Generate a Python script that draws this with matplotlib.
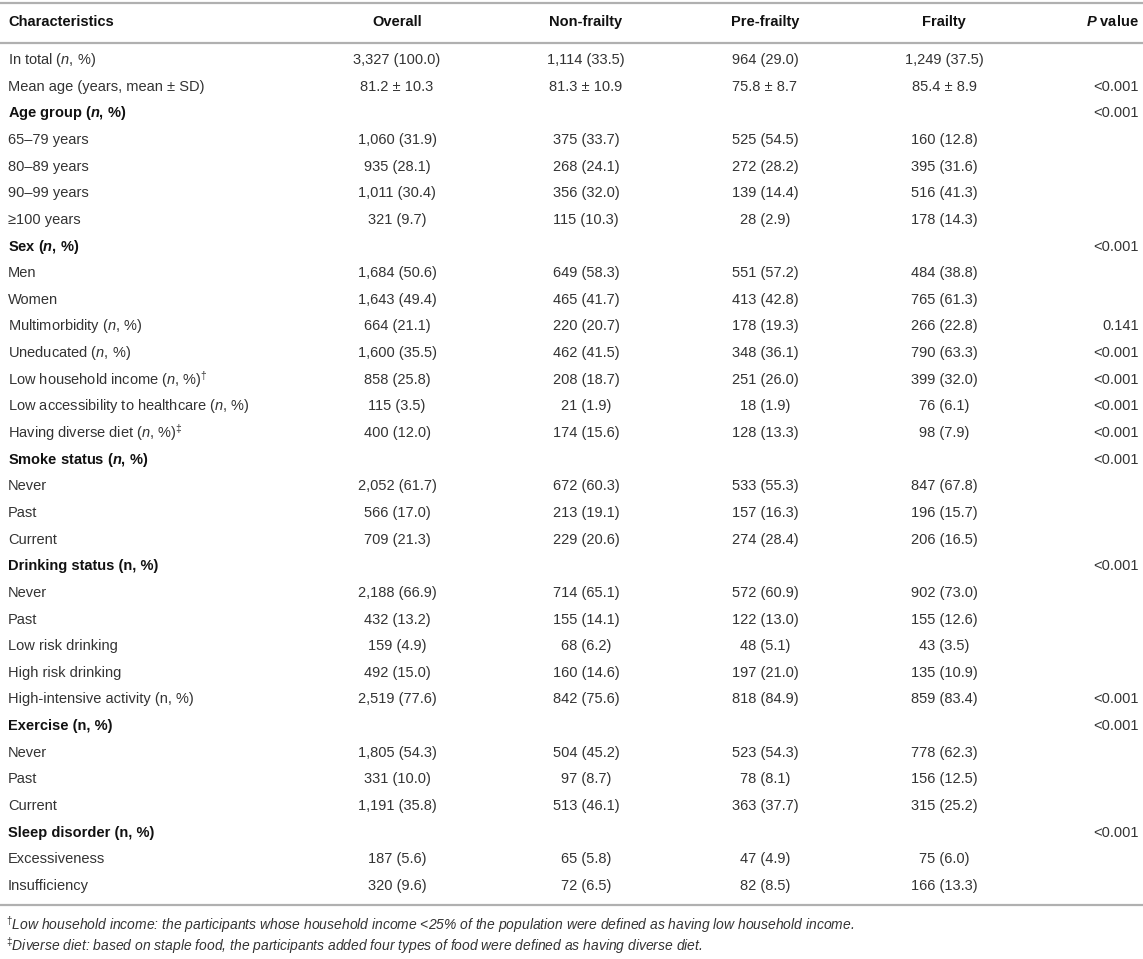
import matplotlib.pyplot as plt
import numpy as np

plt.rcParams['font.family'] = ['Liberation Sans', 'DejaVu Sans']
plt.rcParams['mathtext.fontset'] = 'custom'
plt.rcParams['mathtext.rm'] = 'Liberation Sans'
plt.rcParams['mathtext.it'] = 'Liberation Sans:italic'
plt.rcParams['mathtext.bf'] = 'Liberation Sans:bold'
plt.rcParams['mathtext.bfit'] = 'Liberation Sans:bold:italic'

# Tabel data
headers = ['Characteristics', 'Overall', 'Non-frailty', 'Pre-frailty', 'Frailty', r'$\mathbfit{P}$ value']

labels = [
    r'In total ($\mathit{n}$, %)',
    'Mean age (years, mean ± SD)',
    r'Age group ($\mathbfit{n}$, %)',
    '65–79 years',
    '80–89 years',
    '90–99 years',
    '≥100 years',
    r'Sex ($\mathbfit{n}$, %)',
    'Men',
    'Women',
    r'Multimorbidity ($\mathit{n}$, %)',
    r'Uneducated ($\mathit{n}$, %)',
    r'Low household income ($\mathit{n}$, %)$^{†}$',
    r'Low accessibility to healthcare ($\mathit{n}$, %)',
    r'Having diverse diet ($\mathit{n}$, %)$^{‡}$',
    r'Smoke status ($\mathbfit{n}$, %)',
    'Never',
    'Past',
    'Current',
    'Drinking status (n, %)',
    'Never',
    'Past',
    'Low risk drinking',
    'High risk drinking',
    'High-intensive activity (n, %)',
    'Exercise (n, %)',
    'Never',
    'Past',
    'Current',
    'Sleep disorder (n, %)',
    'Excessiveness',
    'Insufficiency',
]

bold_rows = [2, 7, 15, 19, 25, 29]

overall = ['3,327 (100.0)', '81.2 ± 10.3', '', '1,060 (31.9)', '935 (28.1)', '1,011 (30.4)',
           '321 (9.7)', '', '1,684 (50.6)', '1,643 (49.4)', '664 (21.1)', '1,600 (35.5)',
           '858 (25.8)', '115 (3.5)', '400 (12.0)', '', '2,052 (61.7)', '566 (17.0)',
           '709 (21.3)', '', '2,188 (66.9)', '432 (13.2)', '159 (4.9)', '492 (15.0)',
           '2,519 (77.6)', '', '1,805 (54.3)', '331 (10.0)', '1,191 (35.8)', '',
           '187 (5.6)', '320 (9.6)']
non_frailty = ['1,114 (33.5)', '81.3 ± 10.9', '', '375 (33.7)', '268 (24.1)', '356 (32.0)',
               '115 (10.3)', '', '649 (58.3)', '465 (41.7)', '220 (20.7)', '462 (41.5)',
               '208 (18.7)', '21 (1.9)', '174 (15.6)', '', '672 (60.3)', '213 (19.1)',
               '229 (20.6)', '', '714 (65.1)', '155 (14.1)', '68 (6.2)', '160 (14.6)',
               '842 (75.6)', '', '504 (45.2)', '97 (8.7)', '513 (46.1)', '',
               '65 (5.8)', '72 (6.5)']
pre_frailty = ['964 (29.0)', '75.8 ± 8.7', '', '525 (54.5)', '272 (28.2)', '139 (14.4)',
               '28 (2.9)', '', '551 (57.2)', '413 (42.8)', '178 (19.3)', '348 (36.1)',
               '251 (26.0)', '18 (1.9)', '128 (13.3)', '', '533 (55.3)', '157 (16.3)',
               '274 (28.4)', '', '572 (60.9)', '122 (13.0)', '48 (5.1)', '197 (21.0)',
               '818 (84.9)', '', '523 (54.3)', '78 (8.1)', '363 (37.7)', '',
               '47 (4.9)', '82 (8.5)']
frailty = ['1,249 (37.5)', '85.4 ± 8.9', '', '160 (12.8)', '395 (31.6)', '516 (41.3)',
           '178 (14.3)', '', '484 (38.8)', '765 (61.3)', '266 (22.8)', '790 (63.3)',
           '399 (32.0)', '76 (6.1)', '98 (7.9)', '', '847 (67.8)', '196 (15.7)',
           '206 (16.5)', '', '902 (73.0)', '155 (12.6)', '43 (3.5)', '135 (10.9)',
           '859 (83.4)', '', '778 (62.3)', '156 (12.5)', '315 (25.2)', '',
           '75 (6.0)', '166 (13.3)']
p_values = ['', '<0.001', '<0.001', '', '', '', '', '<0.001', '', '', '0.141', '<0.001',
            '<0.001', '<0.001', '<0.001', '<0.001', '', '', '', '<0.001', '', '', '', '',
            '<0.001', '<0.001', '', '', '', '<0.001', '', '']

footnotes = [
    r'$^{†}$Low household income: the participants whose household income <25% of the population were defined as having low household income.',
    r'$^{‡}$Diverse diet: based on staple food, the participants added four types of food were defined as having diverse diet.',
]

W, H = 1143, 959
fig = plt.figure(figsize=(W / 100, H / 100), dpi=100)
ax = fig.add_axes([0, 0, 1, 1])
ax.set_xlim(0, W)
ax.set_ylim(H, 0)
ax.axis('off')

txt_col = '#333333'
head_col = '#111111'
line_col = '#b0b0b0'
fs = 10.5

col_x = [8, 397, 586, 765, 944, 1139]
col_ha = ['left', 'center', 'center', 'center', 'center', 'right']

# Garis tabel
for yl in [3, 43, 905]:
    ax.plot([0, W], [yl, yl], color=line_col, lw=1.6, solid_capstyle='butt')

# Header
for x, ha, h in zip(col_x, col_ha, headers):
    ax.text(x, 22, h, ha=ha, va='center', fontsize=fs, fontweight='bold', color=head_col)

# Baris data
row_y = np.linspace(60, 886, len(labels))
columns = [labels, overall, non_frailty, pre_frailty, frailty, p_values]
for i, y in enumerate(row_y):
    for j, (x, ha) in enumerate(zip(col_x, col_ha)):
        s = columns[j][i]
        if not s:
            continue
        if j == 0 and i in bold_rows:
            ax.text(x, y, s, ha=ha, va='center', fontsize=fs, fontweight='bold', color=head_col)
        else:
            ax.text(x, y, s, ha=ha, va='center', fontsize=fs, color=txt_col)

# Catatan kaki
for y, f in zip([925, 946], footnotes):
    ax.text(6, y, f, ha='left', va='center', fontsize=10, fontstyle='italic', color=txt_col)

fig.savefig('out.png', dpi=100)
